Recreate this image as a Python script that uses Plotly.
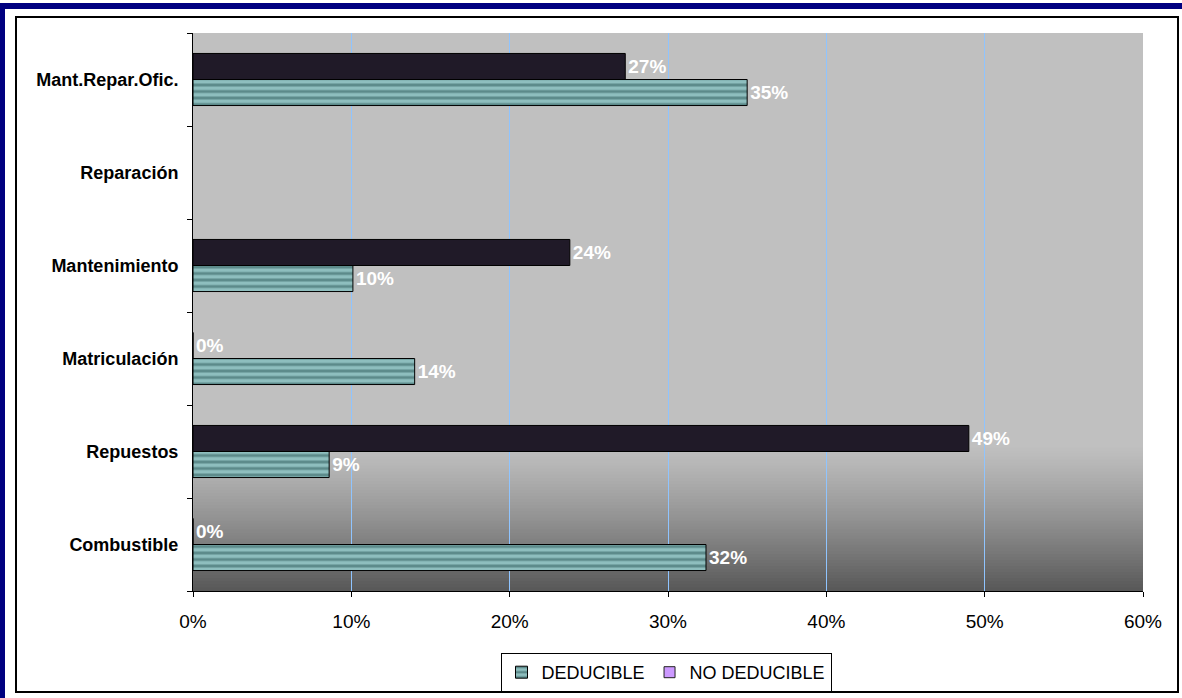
import plotly.graph_objects as go

categories = ['Combustible', 'Repuestos', 'Matriculación', 'Mantenimiento', 'Reparación', 'Mant.Repar.Ofic.']
deducible = [0.324, 0.086, 0.140, 0.101, None, 0.350]
no_deducible = [0.0, 0.490, 0.0, 0.238, None, 0.273]
x_ticks = [0, 0.1, 0.2, 0.3, 0.4, 0.5, 0.6]
x_tick_labels = ['0%', '10%', '20%', '30%', '40%', '50%', '60%']

FONT = 'Arial, Liberation Sans, sans-serif'
W, H = 1182, 698
L, R, T, B = 193, 1143, 33, 591

def px_x(p):
    return (p - L) / (R - L)

def px_y(p):
    return (B - p) / (B - T)

fig = go.Figure()

fig.add_trace(go.Bar(
    name='DEDUCIBLE', y=categories, x=deducible, orientation='h',
    marker=dict(color='#5c8a8a', line=dict(color='black', width=1),
                pattern=dict(shape='-', fgcolor='#bff2f2', size=6.5, solidity=0.55)),
    texttemplate='%{x:.0%}', textposition='outside', cliponaxis=False,
    textfont=dict(family=FONT, size=19, color='white', weight='bold'),
))
fig.add_trace(go.Bar(
    name='NO DEDUCIBLE', y=categories, x=no_deducible, orientation='h',
    marker=dict(color='#201a28', line=dict(color='black', width=1)),
    texttemplate='%{x:.0%}', textposition='outside', cliponaxis=False,
    textfont=dict(family=FONT, size=19, color='white', weight='bold'),
    showlegend=False,
))
fig.add_trace(go.Scatter(
    name='NO DEDUCIBLE', x=[None], y=[None], mode='markers',
    marker=dict(symbol='square', size=11, color='#cc99ff', line=dict(color='#222222', width=1)),
))

shapes = []
# gradient background at bottom of plot area
top_px, bot_px = 445, 591
n = 48
c0, c1 = (192, 192, 192), (88, 88, 88)
for i in range(n):
    y0p = top_px + (bot_px - top_px) * i / n
    y1p = top_px + (bot_px - top_px) * (i + 1) / n
    t = (i + 0.5) / n
    t = t ** 1.2
    c = tuple(int(round(c0[k] + (c1[k] - c0[k]) * t)) for k in range(3))
    shapes.append(dict(type='rect', xref='x domain', yref='y domain', layer='below',
                       x0=0, x1=1, y0=px_y(y1p) - 0.001, y1=px_y(y0p) + 0.001,
                       fillcolor='rgb(%d,%d,%d)' % c, line=dict(width=0)))
# outer frame
shapes.append(dict(type='rect', xref='paper', yref='paper', x0=px_x(16), x1=px_x(1178),
                   y0=px_y(692), y1=px_y(17), line=dict(color='black', width=2), layer='below'))
shapes.append(dict(type='rect', xref='paper', yref='paper', x0=px_x(0), x1=px_x(1182),
                   y0=px_y(9), y1=px_y(3), fillcolor='#000080', line=dict(width=0)))
shapes.append(dict(type='rect', xref='paper', yref='paper', x0=px_x(0), x1=px_x(5),
                   y0=px_y(698), y1=px_y(3), fillcolor='#000080', line=dict(width=0)))

fig.update_layout(
    width=W, height=H,
    margin=dict(l=L, r=W - R, t=T, b=H - B, autoexpand=False),
    paper_bgcolor='white', plot_bgcolor='#c0c0c0',
    barmode='group', bargap=0.44, bargroupgap=0,
    font=dict(family=FONT, size=16, color='black'),
    shapes=shapes,
    showlegend=True,
    legend=dict(orientation='h', xref='container', yref='container',
                x=666 / W, xanchor='center', y=1 - 653 / H, yanchor='top',
                bordercolor='black', borderwidth=1, bgcolor='white',
                font=dict(family=FONT, size=18, color='black'),
                itemwidth=30, traceorder='normal', tracegroupgap=0),
    xaxis=dict(range=[0, 0.6], tickvals=x_ticks, ticktext=x_tick_labels,
               showgrid=True, gridcolor='#8fc4ff', gridwidth=1,
               showline=True, linecolor='black', linewidth=1,
               ticks='outside', ticklen=5, tickcolor='black', zeroline=False,
               ticklabelstandoff=8, automargin=False,
               tickfont=dict(family=FONT, size=19, color='black')),
    yaxis=dict(categoryorder='array', categoryarray=categories,
               showline=True, linecolor='black', linewidth=1,
               ticks='outside', ticklen=5, tickcolor='black', tickson='boundaries',
               showgrid=False, zeroline=False, ticklabelstandoff=10, automargin=False,
               tickfont=dict(family=FONT, size=18, color='black', weight='bold')),
)

fig.write_html('out.html', config={'displayModeBar': False},
               post_script="document.body.style.margin='0';document.body.style.overflow='hidden';")
